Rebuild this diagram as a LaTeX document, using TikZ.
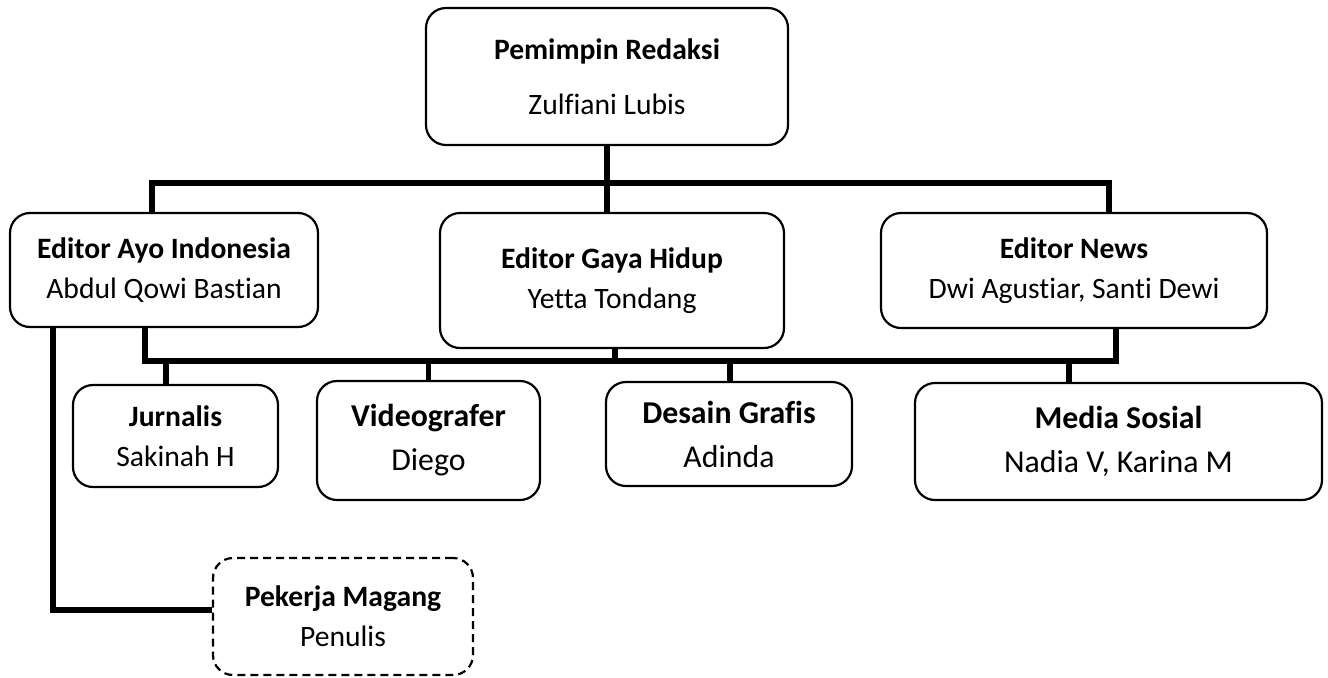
\documentclass[tikz,border=0pt]{standalone}
\usepackage{fontspec}
\setmainfont{Carlito}[Ligatures=NoCommon]
\begin{document}
\begin{tikzpicture}[
            x=0.5pt, y=-0.5pt,
            unit/.style={draw, line width=1.1pt, rounded corners=10pt, align=center, inner sep=0pt, font=\fontsize{14.8}{20}\selectfont},
            staff/.style={unit, font=\fontsize{15.9}{22}\selectfont},
            intern/.style={unit, dash pattern=on 4pt off 2.5pt},
            conn/.style={line width=2.6pt}
        ]
            \useasboundingbox (0,0) rectangle (1328,677);
            % pimpinan
            \node[unit, minimum width=181pt, minimum height=68.5pt] (top) at (607,76.5)
                {\textbf{Pemimpin Redaksi}\\[7.5pt]Zulfiani Lubis};
            % editor
            \node[unit, minimum width=154pt, minimum height=57pt] (ayo) at (164,270)
                {\textbf{Editor Ayo Indonesia}\\Abdul Qowi Bastian};
            \node[unit, minimum width=172pt, minimum height=67.5pt] (gaya) at (612,280.5)
                {\textbf{Editor Gaya Hidup}\\Yetta Tondang};
            \node[unit, minimum width=193pt, minimum height=57.5pt] (news) at (1074,270.5)
                {\textbf{Editor News}\\Dwi Agustiar, Santi Dewi};
            % staf
            \node[unit, minimum width=102.5pt, minimum height=51pt] (jur) at (175.5,436)
                {\textbf{Jurnalis}\\Sakinah H};
            \node[staff, minimum width=111.5pt, minimum height=59.5pt] (video) at (428.5,440.5)
                {\textbf{Videografer}\\Diego};
            \node[staff, minimum width=123pt, minimum height=52pt] (desain) at (729,434)
                {\textbf{Desain Grafis}\\Adinda};
            \node[staff, minimum width=203.5pt, minimum height=58.5pt] (media) at (1118.5,441.5)
                {\textbf{Media Sosial}\\Nadia V, Karina M};
            \node[intern, minimum width=130pt, minimum height=58.5pt] (magang) at (343,616.5)
                {\textbf{Pekerja Magang}\\Penulis};

            \coordinate (bus1) at (607,183);
            \coordinate (bus2) at (615,361);
            \draw[conn] (top.south) -- (top.south |- gaya.north);
            \draw[conn] ([xshift=-6pt]ayo.north) |- (bus1) -| ([xshift=17.5pt]news.north);
            \draw[conn] ([xshift=-9.5pt]ayo.south) |- (bus2) -| ([xshift=21pt]news.south);
            \draw[conn] (bus2 |- gaya.south) -- (bus2);
            \foreach \n/\dx in {jur/-4.75pt, video/0pt, desain/0.5pt, media/-24.75pt}
                \draw[conn] ([xshift=\dx]\n.north) -- ([xshift=\dx]\n.north |- bus2);
            \draw[conn] ([xshift=-55.5pt]ayo.south) |- ([yshift=3.25pt]magang.west);
        \end{tikzpicture}
\end{document}
